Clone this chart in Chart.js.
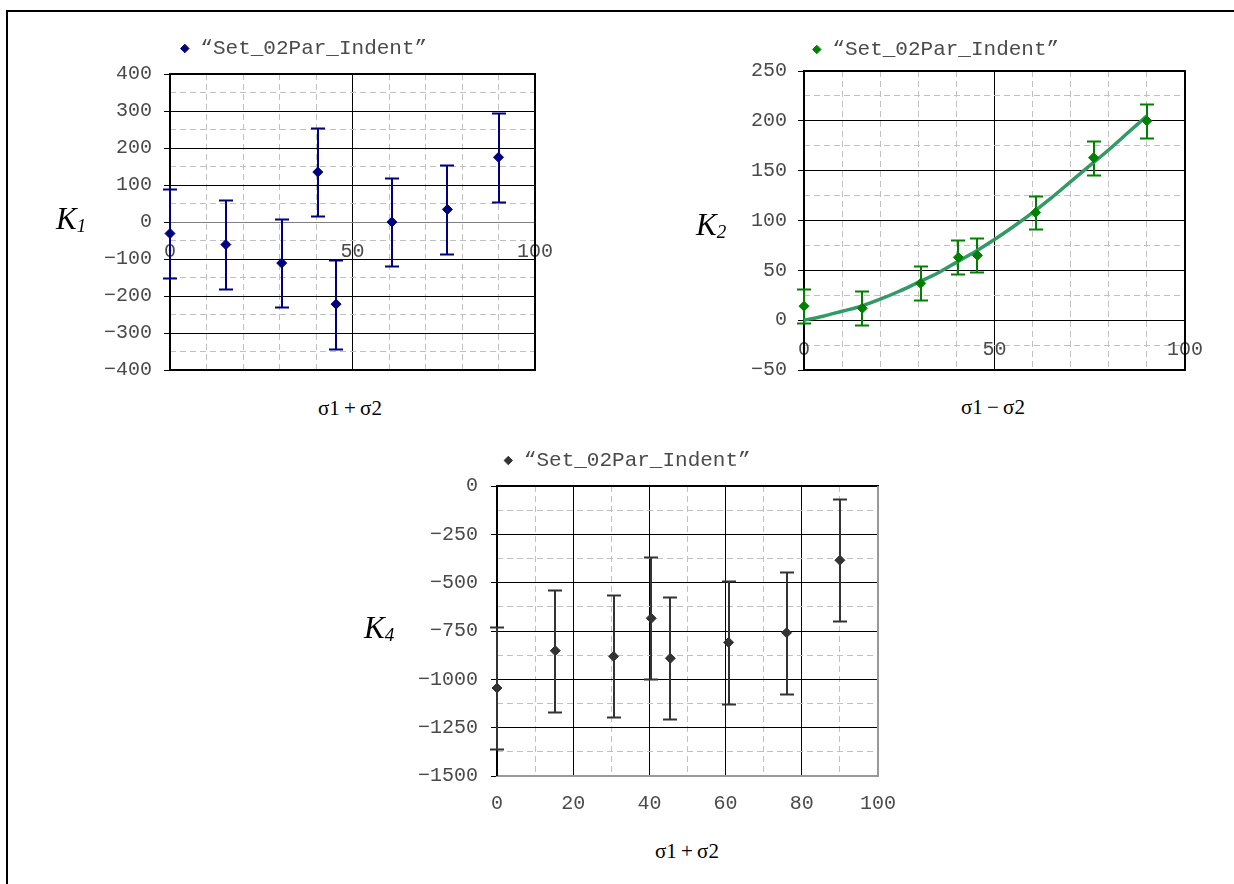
<!DOCTYPE html>
<html>
<head>
<meta charset="utf-8">
<title>K1 / K2 / K4</title>
<script src="https://cdn.jsdelivr.net/npm/chart.js@4/dist/chart.umd.min.js"></script>
<style>
  html, body { margin: 0; padding: 0; background: #fff; overflow: hidden; }
  body { width: 1234px; height: 884px; position: relative; }
  .frame { position: absolute; left: 6px; top: 10px; width: 1260px; height: 900px;
           border-top: 2px solid #000; border-left: 2px solid #000; }
  canvas { position: absolute; }
  .ylab { position: absolute; font: italic 31px "Liberation Serif", serif; color: #000; line-height: 1; }
  .ylab span { font-size: 19px; position: relative; top: 3px; }
  .xlab { position: absolute; font: 21px "Liberation Serif", serif; color: #000;
          transform: translate(-50%, -50%); white-space: nowrap; }
</style>
</head>
<body>
<div class="frame"></div>

<canvas id="k1Chart" width="530" height="357" style="left:40px;top:28px"></canvas>
<canvas id="k2Chart" width="555" height="356" style="left:670px;top:29px"></canvas>
<canvas id="k4Chart" width="550" height="390" style="left:360px;top:440px"></canvas>

<div class="ylab" style="left:56px;top:203px">K<span>1</span></div>
<div class="ylab" style="left:696px;top:209px">K<span>2</span></div>
<div class="ylab" style="left:364px;top:612px">K<span>4</span></div>

<div class="xlab" style="left:350px;top:408px">σ1&#8201;+&#8201;σ2</div>
<div class="xlab" style="left:993px;top:407px">σ1&#8201;&#8722;&#8201;σ2</div>
<div class="xlab" style="left:687px;top:851px">σ1&#8201;+&#8201;σ2</div>

<script>
// shared load parameter (x positions of the indentation sets)
const sigma = [0, 15.3, 30.6, 40.5, 45.5, 60.8, 76, 90];

// K1 vs sigma1 + sigma2
const k1 = [-31, -61, -111, 135, -222, 0, 34, 175];
const k1Err = [120, 120, 120, 120, 120, 120, 120, 120];

// K2 vs sigma1 - sigma2, with fitted curve
const k2 = [14, 12, 37, 63, 65, 108, 163, 200];
const k2Err = [17, 17, 17, 17, 17, 17, 17, 17];
const k2FitX = [0, 5, 10, 15, 20, 25, 30, 35, 40, 45, 50, 55, 60, 65, 70, 75, 80, 85, 90];
const k2FitY = [0, 4, 9, 14, 21, 29, 38, 47, 58, 69, 81, 94, 108, 123, 139, 155, 171, 188, 205];

// K4 vs sigma1 + sigma2
const k4 = [-1045, -852, -881, -684, -891, -809, -759, -384];
const k4Err = [316, 316, 316, 316, 316, 316, 316, 316];

const seriesName = "“Set_02Par_Indent”";

// labelled (major) ticks; minor ticks in between get dashed grid lines
const k1YTicks = [-400, -300, -200, -100, 0, 100, 200, 300, 400];
const k2YTicks = [-50, 0, 50, 100, 150, 200, 250];
const k4YTicks = [-1500, -1250, -1000, -750, -500, -250, 0];
const xTicksWide = [0, 50, 100];
const xTicksFine = [0, 20, 40, 60, 80, 100];

const monoFont = { family: "'Liberation Mono', 'DejaVu Sans Mono', monospace", size: 20 };
const textGray = '#4a4a4a';

// error bars drawn under the markers, from each dataset's errors array
const errorBars = {
  id: 'errorBars',
  beforeDatasetsDraw(chart) {
    const { ctx, scales: { x, y } } = chart;
    chart.data.datasets.forEach((ds) => {
      if (!ds.errors) return;
      ctx.save();
      ctx.strokeStyle = ds.borderColor;
      ctx.lineWidth = 2;
      ds.data.forEach((pt, j) => {
        const px = Math.round(x.getPixelForValue(pt.x));
        const top = Math.round(y.getPixelForValue(pt.y + ds.errors[j])) + 0.5;
        const bot = Math.round(y.getPixelForValue(pt.y - ds.errors[j])) + 0.5;
        ctx.beginPath();
        ctx.moveTo(px, top);
        ctx.lineTo(px, bot);
        ctx.moveTo(px - 7, top);
        ctx.lineTo(px + 7, top);
        ctx.moveTo(px - 7, bot);
        ctx.lineTo(px + 7, bot);
        ctx.stroke();
      });
      ctx.restore();
    });
  }
};

// plot-area outline, one colour per side
const plotFrame = {
  id: 'plotFrame',
  beforeDatasetsDraw(chart, args, opts) {
    const { ctx, chartArea: a } = chart;
    const c = opts.colors || ['#000', '#000', '#000', '#000'];
    const w = opts.width || 2;
    ctx.save();
    ctx.lineWidth = w;
    const side = (color, x1, y1, x2, y2) => {
      ctx.strokeStyle = color;
      ctx.beginPath();
      ctx.moveTo(x1, y1);
      ctx.lineTo(x2, y2);
      ctx.stroke();
    };
    side(c[0], a.left - 1, a.top, a.right + 1, a.top);
    side(c[1], a.right, a.top, a.right, a.bottom);
    side(c[2], a.left - 1, a.bottom, a.right + 1, a.bottom);
    side(c[3], a.left, a.top, a.left, a.bottom);
    ctx.restore();
  }
};

// extra room between the legend and the plot
const legendGap = {
  id: 'legendGap',
  beforeInit(chart, args, opts) {
    const fit = chart.legend.fit;
    chart.legend.fit = function () {
      fit.call(this);
      this.height += opts.extra || 0;
    };
  }
};

const tv = (c) => (c.tick ? c.tick.value : NaN);
const fmt = (v) => String(v).replace('-', '\u2212');

// fixed scale size, and no label overhang pushed into the layout
const fixSize = (prop, size) => (s) => {
  s[prop] = size;
  s.paddingLeft = 0;
  s.paddingRight = 0;
  s.paddingTop = 0;
  s.paddingBottom = 0;
};

function axis(o) {
  return {
    type: 'linear',
    min: o.min,
    max: o.max,
    position: o.position,
    afterFit: o.afterFit,
    ticks: {
      stepSize: o.step,
      autoSkip: false,
      maxRotation: 0,
      padding: o.pad,
      color: textGray,
      font: monoFont,
      callback: (v) => (o.labels.includes(v) ? fmt(v) : '')
    },
    grid: {
      lineWidth: 1,
      color: (c) => {
        const v = tv(c);
        if (o.special && o.special[v]) return o.special[v];
        return o.labels.includes(v) ? '#000' : '#c0c0c0';
      },
      drawTicks: o.drawTicks,
      tickLength: 6,
      tickColor: (c) => (o.labels.includes(tv(c)) ? '#000' : 'rgba(0,0,0,0)')
    },
    border: {
      display: false,
      dash: (c) => (o.labels.includes(tv(c)) ? [] : [6, 4])
    }
  };
}

function scatterSet(values, errors, color) {
  return {
    label: seriesName,
    data: sigma.map((x, i) => ({ x, y: values[i] })),
    errors,
    pointStyle: 'rectRot',
    pointRadius: 5,
    backgroundColor: color,
    borderColor: color,
    borderWidth: 1,
    clip: false
  };
}

function legendOpts() {
  return {
    display: true,
    position: 'top',
    align: 'center',
    labels: {
      usePointStyle: true,
      boxWidth: 10,
      boxHeight: 6,
      padding: 10,
      color: textGray,
      font: { family: monoFont.family, size: 21 },
      filter: (item) => item.datasetIndex === 0
    }
  };
}

const common = {
  responsive: false,
  animation: false,
  events: [],
  devicePixelRatio: 1
};

// K1
new Chart(document.getElementById('k1Chart'), {
  type: 'scatter',
  data: { datasets: [scatterSet(k1, k1Err, '#000080')] },
  options: {
    ...common,
    layout: { autoPadding: false, padding: { top: 0, left: 32, right: 35, bottom: 15 } },
    scales: {
      x: axis({ min: 0, max: 100, step: 10, labels: xTicksWide, pad: 18, drawTicks: false,
                position: { y: 0 }, afterFit: fixSize('height', 0) }),
      y: axis({ min: -400, max: 400, step: 50, labels: k1YTicks, pad: 12, drawTicks: true,
                position: 'left', special: { 0: '#808080' }, afterFit: fixSize('width', 98) })
    },
    plugins: {
      legend: legendOpts(),
      tooltip: { enabled: false },
      legendGap: { extra: 5 },
      plotFrame: { colors: ['#000', '#000', '#000', '#000'], width: 2 }
    }
  },
  plugins: [legendGap, plotFrame, errorBars]
});

// K2
new Chart(document.getElementById('k2Chart'), {
  type: 'scatter',
  data: {
    datasets: [
      scatterSet(k2, k2Err, '#008000'),
      {
        label: 'fit',
        data: k2FitX.map((x, i) => ({ x, y: k2FitY[i] })),
        showLine: true,
        borderColor: '#339966',
        backgroundColor: '#339966',
        borderWidth: 3.5,
        pointRadius: 0,
        cubicInterpolationMode: 'monotone'
      }
    ]
  },
  options: {
    ...common,
    layout: { autoPadding: false, padding: { top: 0, left: 16, right: 40, bottom: 15 } },
    scales: {
      x: axis({ min: 0, max: 100, step: 10, labels: xTicksWide, pad: 18, drawTicks: false,
                position: { y: 0 }, afterFit: fixSize('height', 0) }),
      y: axis({ min: -50, max: 250, step: 25, labels: k2YTicks, pad: 11, drawTicks: true,
                position: 'left', afterFit: fixSize('width', 118) })
    },
    plugins: {
      legend: legendOpts(),
      tooltip: { enabled: false },
      legendGap: { extra: 1 },
      plotFrame: { colors: ['#000', '#000', '#000', '#000'], width: 2 }
    }
  },
  plugins: [legendGap, plotFrame, errorBars]
});

// K4
new Chart(document.getElementById('k4Chart'), {
  type: 'scatter',
  data: { datasets: [scatterSet(k4, k4Err, '#333333')] },
  options: {
    ...common,
    layout: { autoPadding: false, padding: { top: 0, left: 16, right: 32, bottom: 0 } },
    scales: {
      x: axis({ min: 0, max: 100, step: 10, labels: xTicksFine, pad: 16, drawTicks: false,
                position: 'bottom', afterFit: fixSize('height', 54) }),
      y: axis({ min: -1500, max: 0, step: 125, labels: k4YTicks, pad: 13, drawTicks: true,
                position: 'left', afterFit: fixSize('width', 121) })
    },
    plugins: {
      legend: legendOpts(),
      tooltip: { enabled: false },
      legendGap: { extra: 5 },
      plotFrame: { colors: ['#000', '#999', '#999', '#000'], width: 2 }
    }
  },
  plugins: [legendGap, plotFrame, errorBars]
});
</script>
</body>
</html>
